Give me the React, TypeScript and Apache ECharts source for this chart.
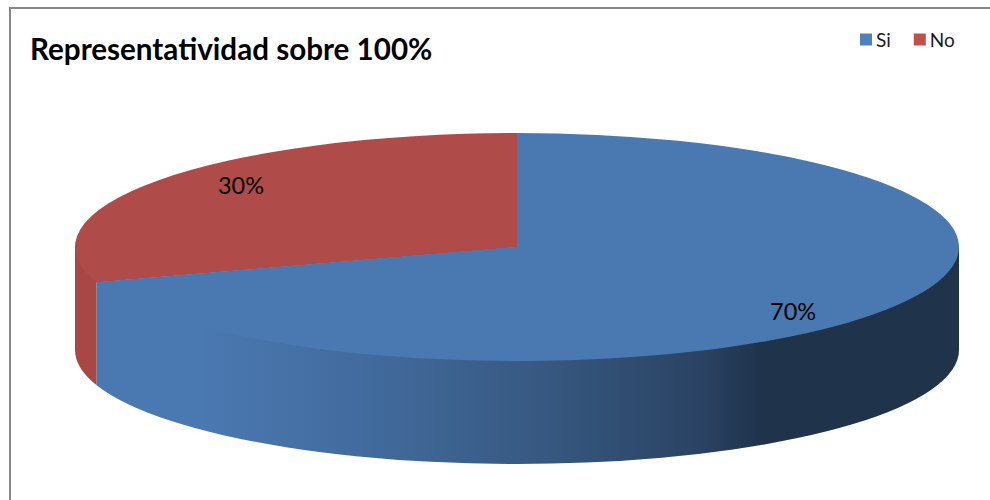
import React, { useEffect, useRef } from "react";
import * as echarts from "echarts";

const categories = ["Si", "No"];
const percentages = [70, 30];
const topColors = ["#4A79B1", "#AF4B48"];
const legendColors = ["#4F81BD", "#C0504D"];
const chartTitle = "Representatividad sobre 100%";

// Projected disc: centre, ellipse radii and rim height in pixels.
const CX = 517;
const CY = 247;
const RX = 442;
const RY = 114;
const DEPTH = 103;
const FONT = "Lato, Carlito, sans-serif";
// Vertical nudge of each percentage label relative to its mid-slice anchor.
const labelShift = [12, -10];

// Angles are clockwise from twelve o'clock, in degrees.
const rim = (deg: number, drop = 0) => {
  const a = (deg * Math.PI) / 180;
  return [CX + RX * Math.sin(a), CY - RY * Math.cos(a) + drop];
};

const sliceRange = (index: number) => {
  const total = percentages.reduce((s, v) => s + v, 0);
  const before = percentages.slice(0, index).reduce((s, v) => s + v, 0);
  return [(before / total) * 360, ((before + percentages[index]) / total) * 360];
};

const topPath = (start: number, end: number) => {
  const [x0, y0] = rim(start);
  const [x1, y1] = rim(end);
  const large = end - start > 180 ? 1 : 0;
  return `M${CX} ${CY}L${x0} ${y0}A${RX} ${RY} 0 ${large} 1 ${x1} ${y1}Z`;
};

// Rim wall for the part of a slice that faces the viewer (90deg to 270deg).
// It runs back to the disc centre, under the top face, so no seam shows there.
const sidePath = (start: number, end: number) => {
  const from = Math.max(start, 90);
  const to = Math.min(end, 270);
  if (to <= from) return null;
  const [x0, y0] = rim(from);
  const [x1, y1] = rim(to);
  const [x2, y2] = rim(to, DEPTH);
  const [x3, y3] = rim(from, DEPTH);
  return (
    `M${x0} ${y0}L${x3} ${y3}A${RX} ${RY} 0 0 1 ${x2} ${y2}` +
    `L${x1} ${y1}L${CX} ${CY}Z`
  );
};

const sideFill = (index: number) =>
  index === 0
    ? new echarts.graphic.LinearGradient(
        97,
        0,
        959,
        0,
        [
          { offset: 0, color: "#4A78B0" },
          { offset: 0.12, color: "#4A78B0" },
          { offset: 0.3, color: "#426C9F" },
          { offset: 0.5, color: "#385A83" },
          { offset: 0.7, color: "#2A4363" },
          { offset: 0.77, color: "#1F334B" },
          { offset: 1, color: "#1F334B" },
        ],
        true
      )
    : "#A94744";

const makeSliceRenderer = (index: number) => (_params: any, api: any) => {
  const value = api.value(0);
  const [start, end] = sliceRange(index);
  const mid = (start + end) / 2;
  const [ax, ay] = rim(mid);
  const lx = CX + (ax - CX) * 0.772;
  const ly = CY + (ay - CY) * 0.772 + labelShift[index];
  const side = sidePath(start, end);
  const children: any[] = [];
  if (side) {
    children.push({
      type: "path",
      shape: { pathData: side },
      style: { fill: sideFill(index) },
    });
  }
  children.push({
    type: "path",
    shape: { pathData: topPath(start, end) },
    style: { fill: topColors[index] },
  });
  children.push({
    type: "text",
    z2: 10,
    style: {
      text: `${value}%`,
      x: lx,
      y: ly,
      align: "center",
      verticalAlign: "middle",
      font: `23.5px ${FONT}`,
      fill: "#000000",
    },
  });
  return { type: "group", children };
};

export default function App() {
  const ref = useRef<HTMLDivElement>(null);

  useEffect(() => {
    const chart = echarts.init(ref.current!, null, { renderer: "svg" });
    chart.setOption({
      animation: false,
      backgroundColor: "#FFFFFF",
      title: {
        text: chartTitle,
        left: 30,
        top: 33,
        padding: 0,
        textStyle: {
          fontFamily: FONT,
          fontSize: 29.6,
          fontWeight: "bold",
          color: "#000000",
        },
      },
      legend: {
        left: 860,
        top: 30,
        padding: 0,
        icon: "rect",
        itemWidth: 12,
        itemHeight: 12,
        itemGap: 23,
        textStyle: {
          fontFamily: FONT,
          fontSize: 19,
          color: "#1A1A1A",
          padding: [0, 0, 0, -1],
        },
        data: categories.map((name, i) => ({
          name,
          itemStyle: { color: legendColors[i] },
        })),
      },
      graphic: [
        {
          type: "rect",
          silent: true,
          shape: { x: 10, y: 8, width: 1100, height: 600 },
          style: { fill: "none", stroke: "#868686", lineWidth: 2 },
        },
      ],
      // The red slice goes first so the blue wall sits in front of it.
      series: categories
        .map((name, i) => ({
          type: "custom",
          name,
          coordinateSystem: "none",
          clip: false,
          silent: true,
          itemStyle: { color: legendColors[i] },
          data: [[percentages[i]]],
          renderItem: makeSliceRenderer(i),
        }))
        .reverse(),
    });
    return () => chart.dispose();
  }, []);

  return (
    <div
      ref={ref}
      style={{ position: "fixed", left: 0, top: 0, width: 990, height: 500 }}
    />
  );
}
